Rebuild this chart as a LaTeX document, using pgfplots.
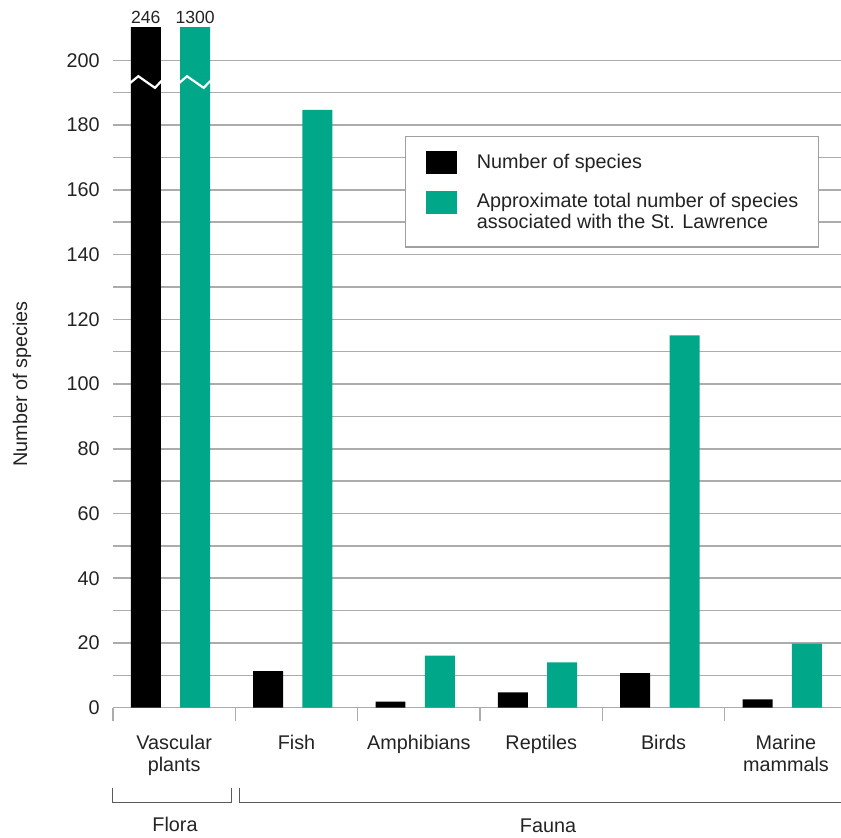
\documentclass[border=0pt]{standalone}
\usepackage{pgfplots}
\pgfplotsset{compat=1.18}
\usepackage{fontspec}
\setmainfont{Liberation Sans}

\definecolor{barblack}{RGB}{0,0,0}
\definecolor{bargreen}{RGB}{0,167,136}
\definecolor{gridgray}{RGB}{172,172,172}
\definecolor{boxgray}{RGB}{160,160,160}
\definecolor{textgray}{RGB}{35,35,35}
\definecolor{bracketgray}{RGB}{90,90,90}

\pgfplotsset{
  % legend swatch; the second one sits beside the first of two text lines
  swatch/.style={legend image code/.code={%
      \fill[##1,draw=none] (0pt,-2.5pt) rectangle (15.85pt,8.85pt);}},
  swatchtwo/.style={legend image code/.code={%
      \fill[##1,draw=none] (0pt,7.5pt) rectangle (15.85pt,18.85pt);}},
}

\begin{document}
\fontsize{9.9pt}{10.5pt}\selectfont
\color{textgray}
\begin{tikzpicture}
\begin{axis}[
  name=ax,
  at={(0,0)}, anchor=south west,
  scale only axis,
  width=364pt, height=339.85pt,
  xmin=-0.5, xmax=5.45,
  ymin=0, ymax=210,
  axis line style={draw=none},
  % category boundaries carry the tick marks
  xtick={-0.5,0.5,1.5,2.5,3.5,4.5},
  xticklabels={},
  tick align=outside,
  major tick length=6.5pt,
  xtick pos=bottom,
  xtick style={draw=gridgray, line width=0.7pt},
  extra x ticks={0,1,2,3,4,5},
  extra x tick labels={{Vascular\\plants},Fish,Amphibians,Reptiles,Birds,{Marine\\mammals}},
  extra x tick style={major tick length=0pt,
    tick label style={align=center, anchor=north, yshift=-10pt,
      font=\fontsize{9.9pt}{11pt}\selectfont}},
  ytick={0,20,...,200},
  minor ytick={10,30,...,190},
  ytick style={draw=none},
  ymajorgrids, yminorgrids,
  major grid style={draw=gridgray, line width=0.75pt},
  minor grid style={draw=gridgray, line width=0.75pt},
  yticklabel style={xshift=3.3pt},
  /pgf/number format/assume math mode=true,
  ylabel={Number of species},
  every axis y label/.style={at={(axis description cs:-0.1250,0.476)},
    rotate=90, anchor=center},
  legend style={
    at={(axis description cs:0.4011,0.8416)}, anchor=north west,
    draw=boxgray, line width=0.6pt, fill=white,
    inner xsep=10pt, inner ysep=7.5pt,
    row sep=8.65pt, column sep=9.8pt,
    nodes={inner sep=0pt, anchor=base west, align=left},
  },
]
\addplot[ybar, bar width=0.245, bar shift=-0.232, fill=barblack, draw=none, swatch]
  coordinates {(0,246) (1,11.3) (2,1.9) (3,4.7) (4,10.7) (5,2.6)};
\addlegendentry{Number of species}
\addplot[ybar, bar width=0.245, bar shift=0.171, fill=bargreen, draw=none, swatchtwo]
  coordinates {(0,1300) (1,184.7) (2,16.1) (3,14) (4,115) (5,19.8)};
\addlegendentry{Approximate total number of species\\associated with the St. Lawrence}

% scale breaks on the two clipped Vascular plants bars
\draw[white, line width=1.1pt, line join=miter]
  (axis cs:-0.36,193.0) -- (axis cs:-0.293,195.1) -- (axis cs:-0.157,191.5) -- (axis cs:-0.10,193.8);
\draw[white, line width=1.1pt, line join=miter]
  (axis cs:0.041,193.0) -- (axis cs:0.105,195.1) -- (axis cs:0.241,191.5) -- (axis cs:0.30,193.8);
\coordinate (topA) at (axis cs:-0.232,210);
\coordinate (topB) at (axis cs:0.171,210);
\end{axis}

% true values of the clipped bars
\node[anchor=base, inner sep=0pt, font=\fontsize{8.8pt}{10pt}\selectfont]
  at ([yshift=2.35pt]topA) {246};
\node[anchor=base, inner sep=0pt, font=\fontsize{8.8pt}{10pt}\selectfont]
  at ([yshift=2.35pt]topB) {1300};

% Flora / Fauna group brackets
\draw[bracketgray, line width=0.7pt]
  (-0.15pt,-40.15pt) -- (-0.15pt,-47.5pt) -- (59.35pt,-47.5pt) -- (59.35pt,-40.15pt);
\draw[bracketgray, line width=0.7pt]
  (63.15pt,-40.15pt) -- (63.15pt,-47.5pt) -- (370pt,-47.5pt);
\node[anchor=base, inner sep=0pt] at (31pt,-62pt) {Flora};
\node[anchor=base, inner sep=0pt] at (217.5pt,-62.5pt) {Fauna};

\pgfresetboundingbox
\path (-56.5pt,-65.15pt) rectangle (364pt,353.85pt);
\end{tikzpicture}
\end{document}
